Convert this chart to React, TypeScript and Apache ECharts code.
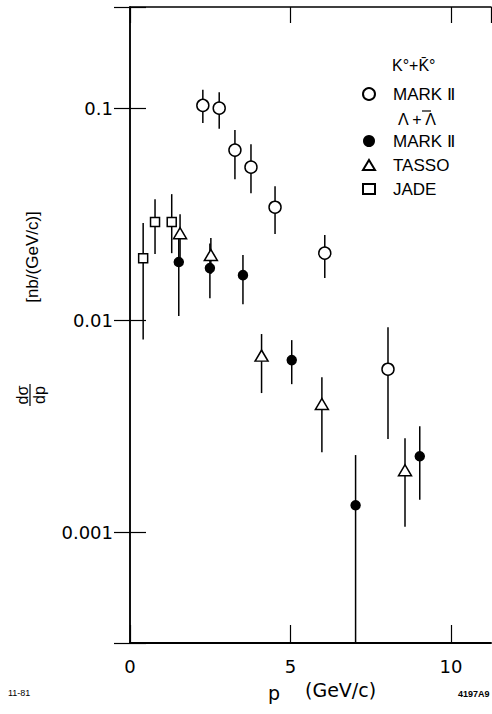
import React, { useEffect, useRef } from 'react';
import * as echarts from 'echarts';

// x tick labels (GeV/c) and y tick labels (nb/(GeV/c))
const xTicks = [0, 5, 10];
const yTicks = [0.001, 0.01, 0.1];

// [p, dσ/dp, error low, error high]
const k0Mark2 = [
  [2.27, 0.103, 0.085, 0.122],
  [2.78, 0.100, 0.080, 0.119],
  [3.27, 0.0634, 0.0462, 0.0788],
  [3.77, 0.0527, 0.0397, 0.0676],
  [4.52, 0.0341, 0.0255, 0.0428],
  [6.07, 0.0207, 0.0158, 0.0252],
  [8.04, 0.00587, 0.00275, 0.00927],
];
const lamMark2 = [
  [1.52, 0.0188, 0.01045, 0.025],
  [2.49, 0.0176, 0.0127, 0.023],
  [3.52, 0.0163, 0.0119, 0.0203],
  [5.04, 0.00648, 0.00499, 0.00805],
  [7.03, 0.00134, 0.0003, 0.00231],
  [9.03, 0.00228, 0.00142, 0.00316],
];
const lamTasso = [
  [1.56, 0.0257, 0.0195, 0.0316],
  [2.52, 0.0203, 0.0165, 0.0244],
  [4.10, 0.0068, 0.00453, 0.0086],
  [5.98, 0.00402, 0.00238, 0.00538],
  [8.57, 0.00196, 0.00106, 0.00277],
];
const lamJade = [
  [0.41, 0.0196, 0.0081, 0.0287],
  [0.78, 0.029, 0.0205, 0.0372],
  [1.30, 0.029, 0.0207, 0.0393],
];

const FONT = 'Liberation Sans, Arial, sans-serif';
const NUMFONT = 'DejaVu Sans, sans-serif';

const errSeries = (name: string, data: number[][]) => ({
  type: 'custom',
  name: name + ' err',
  xAxisIndex: 0,
  yAxisIndex: 0,
  z: 2,
  clip: true,
  data,
  encode: { x: 0, y: 1 },
  renderItem: (params: any, api: any) => {
    const x = api.value(0);
    const p1 = api.coord([x, api.value(2)]);
    const p2 = api.coord([x, api.value(3)]);
    return {
      type: 'line',
      shape: { x1: p1[0], y1: p1[1], x2: p2[0], y2: p2[1] },
      style: { stroke: '#000', lineWidth: 1.5 },
    };
  },
});

const pointSeries = (name: string, data: number[][], symbol: string, size: any, fill: string) => ({
  type: 'scatter',
  name,
  xAxisIndex: 0,
  yAxisIndex: 0,
  z: 3,
  symbol,
  symbolSize: size,
  data: data.map((d) => [d[0], d[1]]),
  itemStyle: { color: fill, borderColor: '#000', borderWidth: 1.5, opacity: 1 },
});

const legendNames: Record<string, string> = {
  'K0 MARK II': 'MARK Ⅱ',
  'Lambda MARK II': 'MARK Ⅱ',
  TASSO: 'TASSO',
  JADE: 'JADE',
};

export default function App() {
  const ref = useRef<HTMLDivElement>(null);
  useEffect(() => {
    if (!ref.current) return;
    const chart = echarts.init(ref.current, null, { renderer: 'svg' });
    const yFmt = (v: number) => {
      const l = Math.log10(v);
      const r = Math.round(l);
      if (Math.abs(l - r) > 1e-6) return '';
      const hit = yTicks.find((t) => Math.abs(Math.log10(t) - l) < 1e-6);
      return hit === undefined ? '' : hit.toFixed(-r);
    };
    const xFmt = (v: number) => (xTicks.includes(v) ? String(v) : '');
    const axisLine = (w: number) => ({ show: true, lineStyle: { color: '#000', width: w } });
    chart.setOption({
      animation: false,
      backgroundColor: '#fff',
      grid: { left: 130, right: 1, top: 7, bottom: 71, containLabel: false },
      xAxis: [
        {
          type: 'value', position: 'bottom', min: 0, max: 11.25, interval: 5,
          axisLine: axisLine(2),
          axisTick: { inside: true, length: 18, lineStyle: { color: '#000', width: 1.2 } },
          axisLabel: { formatter: xFmt, fontSize: 18, color: '#000', margin: 14, fontFamily: NUMFONT, showMaxLabel: false },
          splitLine: { show: false },
        },
        {
          type: 'value', position: 'top', min: 0, max: 11.25, interval: 5,
          axisLine: axisLine(1.5),
          axisTick: { inside: true, length: 16, lineStyle: { color: '#000', width: 1.2 } },
          axisLabel: { show: false },
          splitLine: { show: false },
        },
      ],
      yAxis: [
        {
          type: 'log', logBase: 10, position: 'left', min: 0.0003, max: 0.3,
          axisLine: axisLine(1.5),
          axisTick: { inside: true, length: 16, lineStyle: { color: '#000', width: 1.2 } },
          minorTick: { show: false },
          axisLabel: { formatter: yFmt, fontSize: 18, color: '#000', margin: 17, fontFamily: NUMFONT },
          splitLine: { show: false },
        },
        {
          type: 'log', logBase: 10, position: 'right', min: 0.0003, max: 0.3,
          axisLine: axisLine(1.5),
          axisTick: { inside: true, length: 16, lineStyle: { color: '#000', width: 1.2 } },
          minorTick: { show: false },
          axisLabel: { show: false },
          splitLine: { show: false },
        },
      ],
      legend: [
        {
          orient: 'vertical', left: 357, top: 79, itemWidth: 12, itemHeight: 12, itemGap: 4,
          data: ['K0 MARK II'],
          formatter: (n: string) => legendNames[n] || n,
          textStyle: { fontSize: 17, color: '#000', fontFamily: FONT, lineHeight: 20, padding: [0, 0, 0, 13] },
          selectedMode: false,
        },
        {
          orient: 'vertical', left: 357, top: 126, itemWidth: 12, itemHeight: 10, itemGap: 4,
          data: ['Lambda MARK II', 'TASSO', 'JADE'],
          formatter: (n: string) => legendNames[n] || n,
          textStyle: { fontSize: 17, color: '#000', fontFamily: FONT, lineHeight: 20, padding: [0, 0, 0, 13] },
          selectedMode: false,
        },
      ],
      graphic: [
        { type: 'text', x: 392, y: 65, style: { text: 'K°+K\u0304°', fill: '#000', font: `16px ${FONT}`, verticalAlign: 'middle' } },
        { type: 'text', x: 398, y: 119, style: { text: 'Λ + Λ', fill: '#000', font: `16px ${FONT}`, verticalAlign: 'middle' } },
        { type: 'line', shape: { x1: 422, y1: 111, x2: 431, y2: 111 }, style: { stroke: '#000', lineWidth: 1.2 } },
        { type: 'text', x: 32, y: 257, rotation: Math.PI / 2, style: { text: '[nb/(GeV/c)]', fill: '#000', font: `17px ${FONT}`, align: 'center', verticalAlign: 'middle' } },
        {
          type: 'group', x: 30, y: 395, rotation: Math.PI / 2,
          children: [
            { type: 'text', x: 0, y: -8, style: { text: 'dσ', fill: '#000', font: `16px ${FONT}`, align: 'center', verticalAlign: 'middle' } },
            { type: 'line', shape: { x1: -11, y1: 0, x2: 11, y2: 0 }, style: { stroke: '#000', lineWidth: 1.2 } },
            { type: 'text', x: 0, y: 9, style: { text: 'dp', fill: '#000', font: `16px ${FONT}`, align: 'center', verticalAlign: 'middle' } },
          ],
        },
        { type: 'text', x: 268, y: 693, style: { text: 'p', fill: '#000', font: `19px ${NUMFONT}`, verticalAlign: 'middle' } },
        { type: 'text', x: 305, y: 690, style: { text: '(GeV/c)', fill: '#000', font: `19px ${NUMFONT}`, verticalAlign: 'middle' } },
        { type: 'text', x: 8, y: 693, style: { text: '11-81', fill: '#000', font: `9px ${FONT}`, verticalAlign: 'middle' } },
        { type: 'text', x: 458, y: 694, style: { text: '4197A9', fill: '#000', font: `bold 9px ${FONT}`, verticalAlign: 'middle' } },
      ],
      series: [
        errSeries('K0 MARK II', k0Mark2),
        errSeries('Lambda MARK II', lamMark2),
        errSeries('TASSO', lamTasso),
        errSeries('JADE', lamJade),
        pointSeries('K0 MARK II', k0Mark2, 'circle', 12, '#fff'),
        pointSeries('Lambda MARK II', lamMark2, 'circle', 9, '#000'),
        pointSeries('TASSO', lamTasso, 'triangle', [13, 11], '#fff'),
        pointSeries('JADE', lamJade, 'rect', 9, '#fff'),
      ],
    });
    return () => chart.dispose();
  }, []);
  return <div ref={ref} style={{ position: 'absolute', left: 0, top: 0, width: 492, height: 714 }} />;
}
